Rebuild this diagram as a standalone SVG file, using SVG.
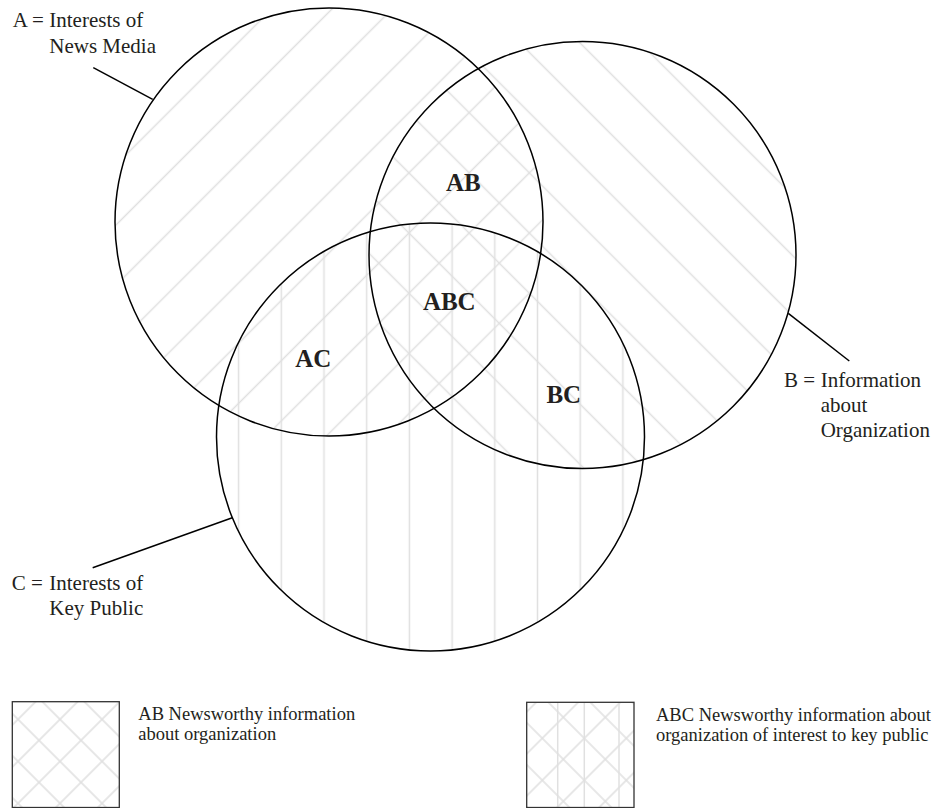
<svg xmlns="http://www.w3.org/2000/svg" width="941" height="808" viewBox="0 0 941 808">
<style>
.outline{fill:none;stroke:#000;stroke-width:1.5}
.hatch{stroke:#e0e0e0;stroke-width:1.5}
.lbl{font-family:"Liberation Serif","Times New Roman",serif;font-size:21px;fill:#231f20}
.reg{font-family:"Liberation Serif","Times New Roman",serif;font-size:25px;font-weight:bold;fill:#231f20;text-anchor:middle}
.leg{font-family:"Liberation Serif","Times New Roman",serif;font-size:18.5px;fill:#231f20}
.lead{stroke:#000;stroke-width:1.5;fill:none}
.box{fill:none;stroke:#333;stroke-width:1.3}
</style>
<defs>
<pattern id="hatchA" patternUnits="userSpaceOnUse" x="219.82" y="0" width="42.57" height="10" patternTransform="rotate(45)">
<line class="hatch" x1="21.28" y1="-1" x2="21.28" y2="11"/>
</pattern>
<pattern id="hatchB" patternUnits="userSpaceOnUse" x="273.37" y="0" width="42.57" height="10" patternTransform="rotate(-45)">
<line class="hatch" x1="21.28" y1="-1" x2="21.28" y2="11"/>
</pattern>
<pattern id="hatchC" patternUnits="userSpaceOnUse" x="217.25" y="0" width="42.7" height="10">
<line class="hatch" x1="21.35" y1="-1" x2="21.35" y2="11"/>
</pattern>
<pattern id="legL1" patternUnits="userSpaceOnUse" x="536.2" y="0" width="29.7" height="10" patternTransform="rotate(45)">
<line class="hatch" x1="14.85" y1="-1" x2="14.85" y2="11"/>
</pattern>
<pattern id="legL2" patternUnits="userSpaceOnUse" x="-481.05" y="0" width="29.7" height="10" patternTransform="rotate(-45)">
<line class="hatch" x1="14.85" y1="-1" x2="14.85" y2="11"/>
</pattern>
<pattern id="legR1" patternUnits="userSpaceOnUse" x="920.35" y="0" width="29.7" height="10" patternTransform="rotate(45)">
<line class="hatch" x1="14.85" y1="-1" x2="14.85" y2="11"/>
</pattern>
<pattern id="legR2" patternUnits="userSpaceOnUse" x="-123.75" y="0" width="29.7" height="10" patternTransform="rotate(-45)">
<line class="hatch" x1="14.85" y1="-1" x2="14.85" y2="11"/>
</pattern>
</defs>

<g id="hatching">
<circle cx="329" cy="222" r="214" fill="url(#hatchA)"/>
<circle cx="582.5" cy="255" r="213.5" fill="url(#hatchB)"/>
<circle cx="430.5" cy="437" r="214" fill="url(#hatchC)"/>
</g>

<g id="node-A">
<circle class="outline" cx="329" cy="222" r="214"/>
<text class="lbl" y="27.3"><tspan x="12.7">A = </tspan><tspan x="49.3">Interests of</tspan></text>
<text class="lbl" x="49.3" y="52.7">News Media</text>
</g>
<g id="node-B">
<circle class="outline" cx="582.5" cy="255" r="213.5"/>
<text class="lbl" y="386.5"><tspan x="784">B = </tspan><tspan x="820.7">Information</tspan></text>
<text class="lbl" x="820.7" y="411.5">about</text>
<text class="lbl" x="820.7" y="436.5">Organization</text>
</g>
<g id="node-C">
<circle class="outline" cx="430.5" cy="437" r="214"/>
<text class="lbl" y="590"><tspan x="11.7">C = </tspan><tspan x="49.3">Interests of</tspan></text>
<text class="lbl" x="49.3" y="615">Key Public</text>
</g>

<g id="region-labels">
<text class="reg" x="463.3" y="190.7">AB</text>
<text class="reg" x="449.3" y="310">ABC</text>
<text class="reg" x="313.3" y="366.7">AC</text>
<text class="reg" x="563.8" y="402.7">BC</text>
</g>

<g id="connectors">
<line class="lead" x1="93.3" y1="67.7" x2="152.7" y2="99.3"/>
<line class="lead" x1="788.3" y1="313.3" x2="849.3" y2="361"/>
<line class="lead" x1="92.7" y1="567.7" x2="232.3" y2="517.7"/>
</g>

<g id="legend-AB">
<rect x="12.3" y="701.7" width="107" height="105.8" fill="url(#legL1)"/>
<rect x="12.3" y="701.7" width="107" height="105.8" fill="url(#legL2)"/>
<rect class="box" x="12.3" y="701.7" width="107" height="105.8"/>
<text class="leg" x="138.3" y="720">AB Newsworthy information</text>
<text class="leg" x="138.3" y="740">about organization</text>
</g>

<g id="legend-ABC">
<rect x="526.7" y="702.3" width="107.3" height="105.2" fill="url(#legR1)"/>
<rect x="526.7" y="702.3" width="107.3" height="105.2" fill="url(#legR2)"/>
<line class="hatch" x1="557.7" y1="702.3" x2="557.7" y2="808"/>
<line class="hatch" x1="584.3" y1="702.3" x2="584.3" y2="808"/>
<line class="hatch" x1="619" y1="702.3" x2="619" y2="808"/>
<rect class="box" x="526.7" y="702.3" width="107.3" height="105.2"/>
<text class="leg" x="656" y="720.7">ABC Newsworthy information about</text>
<text class="leg" x="656" y="740.7">organization of interest to key public</text>
</g>
</svg>
